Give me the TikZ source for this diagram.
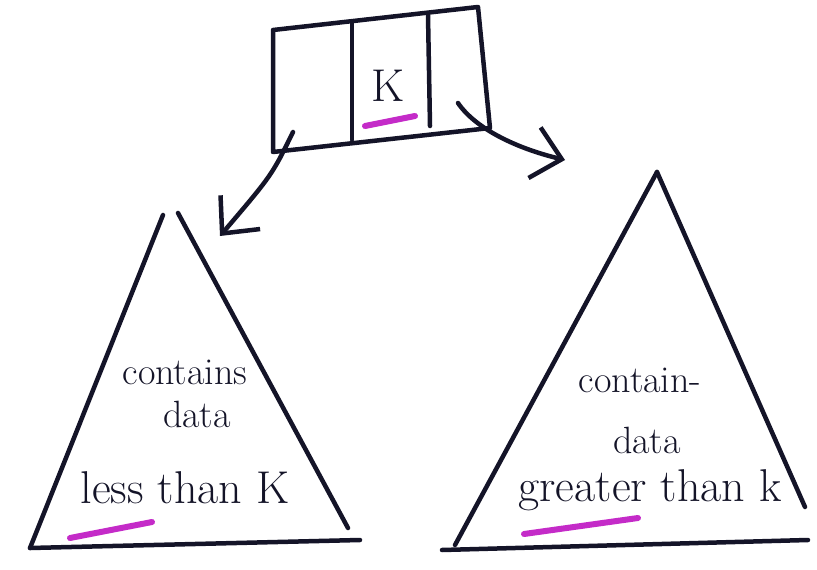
\documentclass[tikz,border=0pt]{standalone}
\usepackage{fontspec}
\usetikzlibrary{arrows.meta}
\definecolor{ink}{HTML}{141428}
\definecolor{hl}{HTML}{C42BC8}
\begin{document}
\begin{tikzpicture}[x=1pt,y=-1pt,
  pen/.style={draw=ink,line width=4.5pt,line cap=round,line join=round},
  hilite/.style={draw=hl,line width=6pt,line cap=round},
  ptr/.style={pen,-{Straight Barb[length=28pt,width=52pt,line width=4.5pt]}},
  lbl/.style={text=ink,font=\fontsize{38}{40}\selectfont,inner sep=0pt},
  big/.style={lbl,font=\fontsize{46}{48}\selectfont}]
\useasboundingbox (0,0) rectangle (817,570);
% record box
\coordinate (b1) at (273,30);
\coordinate (b2) at (478,7);
\coordinate (b3) at (490,128);
\coordinate (b4) at (273,152);
\draw[pen] (b1) -- (b2) -- (b3) -- (b4) -- cycle;
\draw[pen] (352,22) -- (352,140);
\draw[pen] (428,15) -- (430,126);
\node[big] (key) at (388,86) {K};
\draw[hilite] (365,126) -- (415,116);
% pointers
\coordinate (lp) at (293,132);
\coordinate (rp) at (458,103);
\coordinate (ltip) at (220,236);
\coordinate (rtip) at (565,160);
\draw[ptr] (lp) .. controls (272,175) .. (ltip);
\draw[ptr] (rp) .. controls (475,128) and (515,148) .. (rtip);
% left subtree
\coordinate (la) at (163,215);
\coordinate (lb) at (30,548);
\coordinate (lc) at (360,540);
\draw[pen] (la) -- (lb);
\draw[pen] (178,213) -- (348,528);
\draw[pen] (lb) -- (lc);
\node[lbl] (l1) at (185,372) {contains};
\node[lbl] (l2) at (197,414) {data};
\node[big] (l3) at (185,488) {less than K};
\draw[hilite] (70,538) -- (152,522);
% right subtree
\coordinate (ra) at (657,172);
\coordinate (rb) at (455,545);
\coordinate (rc) at (805,507);
\draw[pen] (ra) -- (rb);
\draw[pen] (ra) -- (rc);
\draw[pen] (442,550) -- (808,540);
\node[lbl] (r1) at (640,380) {contain-};
\node[lbl] (r2) at (647,440) {data};
\node[big] (r3) at (650,490) {greater than k};
\draw[hilite] (524,534) -- (638,518);
\end{tikzpicture}
\end{document}
